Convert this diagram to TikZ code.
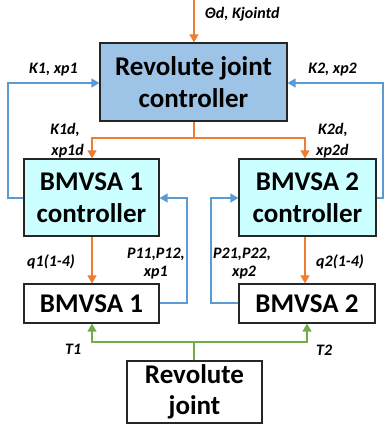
\documentclass[tikz,border=0pt]{standalone}
\usepackage{fontspec}
\setmainfont{Carlito}
\usetikzlibrary{arrows.meta}
\definecolor{oarr}{HTML}{ED7D31}
\definecolor{barr}{HTML}{5B9BD5}
\definecolor{garr}{HTML}{70AD47}
\definecolor{topfill}{HTML}{9DC3E6}
\definecolor{ctrlfill}{HTML}{CCFFFF}
\definecolor{bordc}{HTML}{262626}
\begin{document}
\begin{tikzpicture}[x=1pt,y=-1pt,
  blk/.style={draw=bordc,line width=1.2pt,align=center,inner sep=0pt,
    font=\fontsize{27}{31.5}\selectfont\bfseries},
  lab/.style={font=\fontsize{16}{19}\selectfont\bfseries\itshape,inner sep=0pt},
  ol/.style={draw=oarr,line width=1.3pt},
  bl/.style={draw=barr,line width=1.3pt},
  gl/.style={draw=garr,line width=1.3pt},
  tip/.style={-{Triangle[length=8pt,width=9pt]}}
]
\useasboundingbox (0,0) rectangle (386,430);
% boxes
\node[blk,fill=topfill,minimum width=187pt,minimum height=78pt] (rjc) at (193.5,82) {Revolute joint\\controller};
\node[blk,fill=ctrlfill,minimum width=135pt,minimum height=77pt] (c1) at (91.5,197.5) {BMVSA 1\\controller};
\node[blk,fill=ctrlfill,minimum width=137pt,minimum height=77pt] (c2) at (307.5,197.5) {BMVSA 2\\controller};
\node[blk,fill=white,minimum width=135pt,minimum height=39pt] (b1) at (91.5,303.5) {BMVSA 1};
\node[blk,fill=white,minimum width=136pt,minimum height=39pt] (b2) at (307,303.5) {BMVSA 2};
\node[blk,fill=white,minimum width=135pt,minimum height=62pt] (rj) at (194.5,392) {Revolute\\joint};
% top input
\coordinate (top) at (194,0);
\draw[ol,tip] (top) -- (rjc.north -| top);
\node[lab,anchor=west] (lth) at (205,14) {Θd, Kjointd};
% orange distribution
\coordinate (osp) at (194,138);
\draw[ol] (rjc.south -| osp) -- (osp);
\draw[ol,tip] (osp) -| (c1.north -| 92,0);
\draw[ol,tip] (osp) -| (c2.north -| 305,0);
\node[lab,anchor=east] (lk1) at (80,130) {K1d,};
\node[lab,anchor=east] (lx1) at (84,151) {xp1d};
\node[lab,anchor=west] (lk2) at (318,130) {K2d,};
\node[lab,anchor=west] (lx2) at (316,151) {xp2d};
% blue feedback to top
\coordinate (lf) at (8,83);
\coordinate (rf) at (383,83);
\draw[bl,tip] (c1.west |- 0,198) -- (lf |- 0,198) -- (lf) -- (rjc.west |- lf);
\draw[bl,tip] (c2.east |- 0,198) -- (rf |- 0,198) -- (rf) -- (rjc.east |- rf);
\node[lab,anchor=west] (lkx1) at (29,70) {K1, xp1};
\node[lab,anchor=east] (lkx2) at (357,70) {K2, xp2};
% controller -> BMVSA
\draw[ol,tip] (c1.south -| 92,0) -- (b1.north -| 92,0);
\draw[ol,tip] (c2.south -| 305,0) -- (b2.north -| 305,0);
\node[lab,anchor=west] (lq1) at (27,262) {q1(1-4)};
\node[lab,anchor=west] (lq2) at (316,262) {q2(1-4)};
% BMVSA -> controller feedback
\coordinate (p1) at (187,198);
\coordinate (p2) at (211,198);
\draw[bl,tip] (b1.east |- 0,303) -- (p1 |- 0,303) -- (p1) -- (c1.east |- p1);
\draw[bl,tip] (b2.west |- 0,303) -- (p2 |- 0,303) -- (p2) -- (c2.west |- p2);
\node[lab,anchor=east] (lp1) at (185,254) {P11,P12,};
\node[lab,anchor=east] (lxp1) at (168,273) {xp1};
\node[lab,anchor=west] (lp2) at (213,254) {P21,P22,};
\node[lab,anchor=west] (lxp2) at (232,273) {xp2};
% green
\coordinate (gsp) at (194,342);
\draw[gl] (rj.north -| gsp) -- (gsp);
\draw[gl,tip] (gsp) -| (b1.south -| 92,0);
\draw[gl,tip] (gsp) -| (b2.south -| 307,0);
\node[lab,anchor=west] (lt1) at (65,349) {T1};
\node[lab,anchor=west] (lt2) at (316,350) {T2};
\end{tikzpicture}
\end{document}
